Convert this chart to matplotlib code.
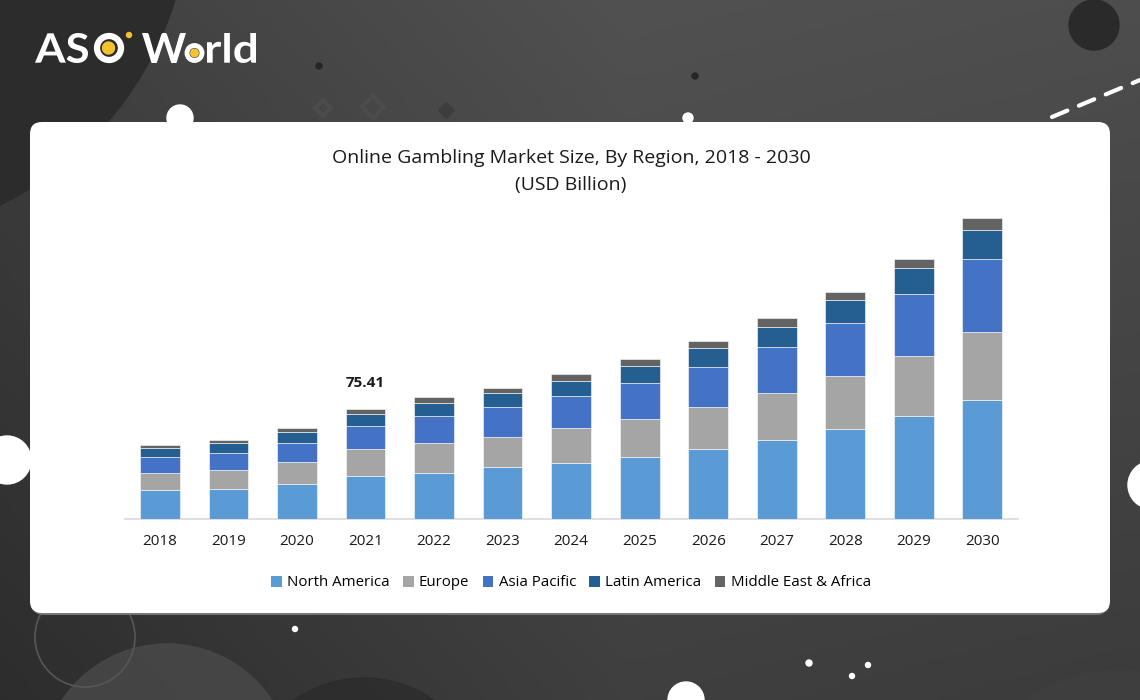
import numpy as np
import matplotlib
matplotlib.use("Agg")
import matplotlib.pyplot as plt
from matplotlib.patches import Circle, FancyBboxPatch, Patch, PathPatch
from matplotlib.textpath import TextPath
from matplotlib.font_manager import FontProperties
from matplotlib.transforms import Affine2D

# data (USD Billion)
years = ["2018", "2019", "2020", "2021", "2022", "2023", "2024",
         "2025", "2026", "2027", "2028", "2029", "2030"]
north_america = [19.9, 20.6, 23.9, 29.6, 31.8, 35.5, 38.7, 42.8, 47.9, 54.3, 61.9, 71.0, 81.5]
europe = [11.9, 13.1, 15.5, 18.4, 20.6, 21.0, 23.6, 26.1, 29.3, 32.1, 36.2, 40.8, 47.4]
asia_pacific = [11.0, 11.5, 13.1, 16.2, 18.4, 20.6, 22.2, 24.7, 27.1, 31.8, 36.7, 42.6, 50.0]
latin_america = [5.8, 6.9, 7.4, 8.0, 8.7, 9.6, 10.5, 11.5, 13.1, 14.0, 15.5, 18.1, 19.9]
mea = [2.3, 2.3, 2.5, 3.2, 4.1, 3.4, 4.4, 4.8, 4.8, 5.8, 5.8, 6.4, 8.0]
regions = ["North America", "Europe", "Asia Pacific", "Latin America", "Middle East & Africa"]
colors = ["#5b9bd5", "#a5a5a5", "#4472c4", "#255e91", "#636363"]
label_year = "2021"
label_text = "75.41"

W, H = 1140, 700
fig = plt.figure(figsize=(W / 100, H / 100), dpi=100)
txt_font = ["Open Sans", "DejaVu Sans"]

# background layer in pixel coords
bg = fig.add_axes([0, 0, 1, 1])
bg.set_xlim(0, W)
bg.set_ylim(H, 0)
bg.axis("off")

xx, yy = np.meshgrid(np.linspace(0, 1, 200), np.linspace(0, 1, 120))
grad = 0.25 + 0.05 * xx - 0.07 * yy + 0.04 * (1 - np.abs(xx - 0.55) * 2)
grad = np.clip(grad, 0, 1)
bg.imshow(np.dstack([grad] * 3), extent=(0, W, H, 0), aspect="auto", zorder=0)

# big soft circles
bg.add_patch(Circle((-150, -100), 340, color="#2c2c2c", zorder=1))
bg.add_patch(Circle((167, 770), 126, color="#4a4a4a", alpha=0.8, zorder=1))
bg.add_patch(Circle((85, 637), 50, fill=False, ec="#575757", lw=1.2, zorder=1))
bg.add_patch(Circle((364, 800), 122, color="#2a2a2a", alpha=0.7, zorder=1))
bg.add_patch(Circle((1120, 830), 160, color="#3e3e3e", zorder=1))
bg.add_patch(Circle((1094, 25), 25, color="#2a2a2a", zorder=2))

# faint diamonds
for cx, cy, s in [(323, 108, 8), (373, 107, 11)]:
    bg.plot(cx, cy, marker="D", ms=s, mfc="none", mec="#4c4c4c", mew=3, zorder=2)
bg.plot(446, 110, marker="D", ms=8, color="#3d3d3d", zorder=2)

# small dots
for cx, cy, r, c in [(180, 118, 13, "white"), (688, 118, 5, "white"), (7, 460, 24, "white"),
                     (1152, 485, 24, "white"), (686, 700, 18, "white"), (295, 629, 2.5, "white"),
                     (809, 663, 3, "white"), (868, 665, 2.5, "white"), (852, 676, 2.5, "white"),
                     (319, 66, 3, "#252525"), (695, 76, 3, "#252525")]:
    bg.add_patch(Circle((cx, cy), r, color=c, zorder=3))

# dashed line top right
bg.plot([1052, 1140], [117, 80], color="white", lw=3, ls=(0, (4, 3)),
        dash_capstyle="round", zorder=3)


# logo: text fitted into pixel boxes
def logo_text(s, x0, x1, top, base):
    tp = TextPath((0, 0), s, size=40, prop=FontProperties(family="Lato", weight="bold"))
    ext = tp.get_extents()
    sx = (x1 - x0) / ext.width
    sy = (base - top) / ext.height
    tr = Affine2D().translate(-ext.x0, -ext.y0).scale(sx, -sy).translate(x0, base)
    bg.add_patch(PathPatch(tr.transform_path(tp), fc="white", ec="none", zorder=4))


logo_text("AS", 35, 88, 33, 63)
logo_text("W", 142, 186, 33, 63)
logo_text("rld", 207, 256, 33, 63)
bg.add_patch(Circle((109, 48), 12, fill=False, ec="white", lw=4.5, zorder=4))
bg.add_patch(Circle((108.5, 48), 6, color="#f2c230", zorder=4))
bg.add_patch(Circle((129, 35), 2.5, color="#f2c230", zorder=4))
bg.add_patch(Circle((194.5, 53), 7.5, fill=False, ec="white", lw=3.5, zorder=4))
bg.add_patch(Circle((194.5, 53), 3.8, color="#f2c230", zorder=4))

# white panel
bg.add_patch(FancyBboxPatch((32, 125), 1076, 490, boxstyle="round,pad=0,rounding_size=12",
                            fc="#777777", ec="none", zorder=5))
bg.add_patch(FancyBboxPatch((30, 122), 1080, 491, boxstyle="round,pad=0,rounding_size=12",
                            fc="white", ec="none", zorder=6))

bg.text(571, 158, "Online Gambling Market Size, By Region, 2018 - 2030", fontsize=14,
        family=txt_font, ha="center", va="center", color="#1a1a1a", zorder=7)
bg.text(571, 185, "(USD Billion)", fontsize=14, family=txt_font,
        ha="center", va="center", color="#1a1a1a", zorder=7)

# chart
ax = fig.add_axes([125 / W, (H - 519) / H, 893 / W, 320 / H])
ax.set_facecolor("none")
x = np.arange(len(years))
series = [north_america, europe, asia_pacific, latin_america, mea]
bottom = np.zeros(len(years))
for vals, name, col in zip(series, regions, colors):
    ax.bar(x, vals, 0.58, bottom=bottom, color=col, label=name, edgecolor="white",
           linewidth=0.4, zorder=3)
    bottom += np.array(vals)

ax.set_xlim(-0.51, len(years) - 0.48)
ax.set_ylim(0, 220)
for s in ["top", "right", "left"]:
    ax.spines[s].set_visible(False)
ax.spines["bottom"].set_color("#d9d9d9")
ax.spines["bottom"].set_linewidth(1.2)
ax.set_yticks([])
ax.set_xticks(x)
ax.set_xticklabels(years, fontsize=11, family=txt_font, color="#1a1a1a")
ax.tick_params(axis="x", length=0, pad=11)

i = years.index(label_year)
ax.annotate(label_text, xy=(i, bottom[i]), xytext=(0, 19), textcoords="offset points",
            ha="center", va="center", fontsize=11, fontweight="bold",
            family=txt_font, color="#1a1a1a")

handles = [Patch(facecolor=c, edgecolor="none") for c in colors]
fig.legend(handles, regions, loc="center", bbox_to_anchor=(571 / W, 1 - 583 / H), ncol=5,
           frameon=False, handlelength=0.7, handleheight=0.7, handletextpad=0.35,
           columnspacing=0.9, prop={"family": txt_font, "size": 10.8})

fig.savefig("out.png", dpi=100)
